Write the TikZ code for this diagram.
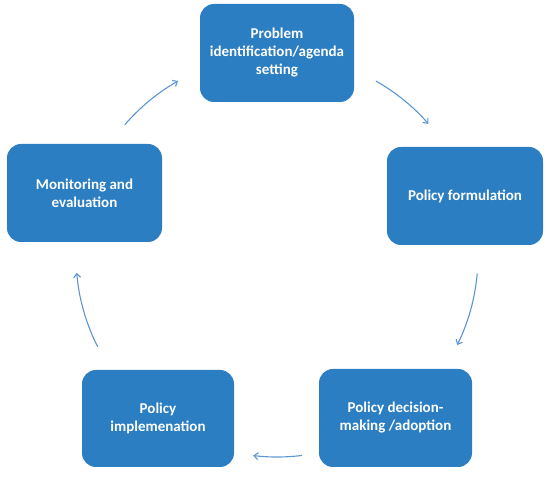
\documentclass[tikz,border=0pt]{standalone}
\usepackage{fontspec}
\setmainfont{Carlito}
\usetikzlibrary{arrows.meta}
\definecolor{boxblue}{RGB}{44,126,194}
\definecolor{arrblue}{RGB}{91,150,210}
\tikzset{
  stagebox/.style={fill=boxblue, draw=none, rounded corners=14pt, text=white,
    font=\fontsize{15}{18}\selectfont\bfseries, align=center, inner sep=0pt},
  cyclearrow/.style={draw=arrblue, line width=1.1pt, -{Straight Barb[length=4pt,width=7pt]}}
}
\begin{document}
\begin{tikzpicture}[x=1pt,y=1pt]
\useasboundingbox (0,0) rectangle (550,477);
\coordinate (c) at (277,221);
\node[stagebox, minimum width=154pt, minimum height=98pt] (b1) at (277,424) {Problem\\identification/agenda\\setting};
\node[stagebox, minimum width=156pt, minimum height=98pt] (b2) at (465,281) {Policy formulation};
\node[stagebox, minimum width=153pt, minimum height=98pt] (b5) at (395.5,59) {Policy decision-\\making /adoption};
\node[stagebox, minimum width=152pt, minimum height=97pt] (b4) at (158,58.5) {Policy\\implemenation};
\node[stagebox, minimum width=155pt, minimum height=98pt] (b3) at (84.5,284) {Monitoring and\\evaluation};
\draw[cyclearrow] ([shift={(139.2:201)}]c) arc[start angle=139.2, end angle=119.5, radius=201];
\draw[cyclearrow] ([shift={(60.5:201)}]c) arc[start angle=60.5, end angle=41.1, radius=201];
\draw[cyclearrow] ([shift={(-5:201)}]c) arc[start angle=-5, end angle=-26.3, radius=201];
\draw[cyclearrow] ([shift={(-82.9:201)}]c) arc[start angle=-82.9, end angle=-96.8, radius=201];
\draw[cyclearrow] ([shift={(206.8:201)}]c) arc[start angle=206.8, end angle=184.8, radius=201];
\end{tikzpicture}
\end{document}
